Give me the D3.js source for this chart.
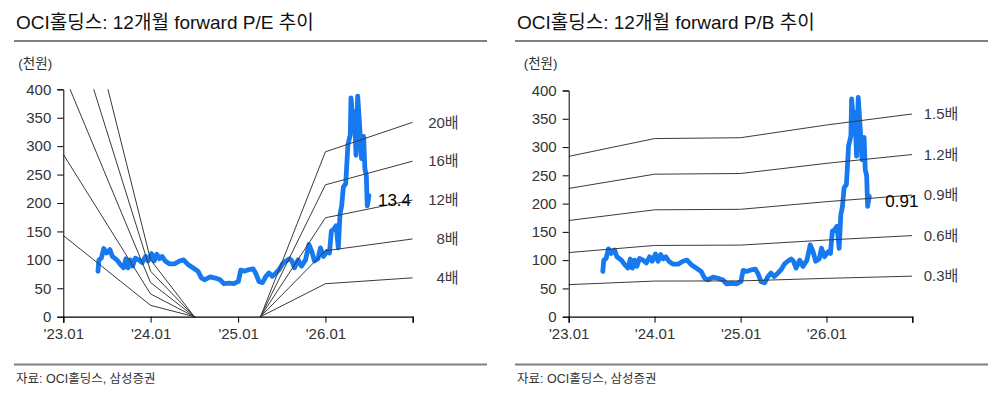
<!DOCTYPE html>
<html>
<head>
<meta charset="utf-8">
<script src="https://cdn.jsdelivr.net/npm/d3@7"></script>
<style>
  body { margin: 0; background: #fff; }
  text { font-family: "Liberation Sans", "Noto Sans CJK KR", sans-serif; }
</style>
</head>
<body>
<script>
// 주가 (천원)
var priceDates = [
  '2023-05-26','2023-05-30','2023-06-09','2023-06-19','2023-07-01','2023-07-15','2023-07-25',
  '2023-08-13','2023-08-27','2023-09-10','2023-09-20','2023-09-29','2023-10-08','2023-10-18',
  '2023-10-29','2023-11-13','2023-11-27','2023-12-11','2023-12-22','2024-01-05','2024-01-16',
  '2024-01-27','2024-02-07','2024-02-18','2024-03-02','2024-03-19','2024-04-10','2024-05-01',
  '2024-05-18','2024-06-05','2024-06-26','2024-07-17','2024-08-01','2024-08-15','2024-09-06',
  '2024-09-27','2024-10-18','2024-11-02','2024-11-23','2024-12-14','2025-01-02','2025-01-12',
  '2025-01-26','2025-02-16','2025-03-05','2025-03-15','2025-03-29','2025-04-13','2025-04-27',
  '2025-05-10','2025-05-24','2025-06-08','2025-06-22','2025-07-06','2025-07-20','2025-08-04',
  '2025-08-14','2025-08-25','2025-09-09','2025-09-23','2025-10-10','2025-10-24','2025-11-05',
  '2025-11-16','2025-12-01','2025-12-11','2025-12-24','2026-01-08','2026-01-18','2026-01-26',
  '2026-02-05','2026-02-15','2026-02-24','2026-03-03','2026-03-10','2026-03-17','2026-03-27',
  '2026-04-05','2026-04-15','2026-04-18','2026-04-25','2026-05-02','2026-05-09','2026-05-16',
  '2026-05-23','2026-06-01','2026-06-10','2026-06-15','2026-06-21','2026-06-25','2026-07-02'
];
var priceValues = [
  80, 100, 103, 120, 112, 118, 106,
  100, 92, 86, 102, 86, 100, 89,
  103, 100, 95, 106, 98, 111, 98,
  110, 102, 106, 98, 93, 93, 98,
  100, 92, 86, 80, 68, 65, 70,
  68, 65, 58, 59, 58, 62, 82,
  80, 83, 84, 77, 62, 60, 71,
  77, 71, 77, 83, 93, 98, 102,
  98, 86, 100, 89, 100, 127, 115,
  98, 102, 121, 106, 115, 112, 151,
  154, 160, 121, 180, 195, 228, 234,
  302, 320, 385, 349, 361, 284, 388,
  343, 278, 317, 260, 249, 195, 213
];

// 밴드 기준 (EPS, BPS 천원)
var bandDates = ['2023-01-01', '2024-01-01', '2025-01-01', '2026-01-01', '2027-01-01'];
var epsValues = [35.7, 5.0, -5.0, 14.5, 17.1];
var bpsValues = [189, 210, 211, 226, 239];
var perMultiples = [4, 8, 12, 16, 20];
var pbrMultiples = [0.3, 0.6, 0.9, 1.2, 1.5];
var perLabels = ['4배', '8배', '12배', '16배', '20배'];
var pbrLabels = ['0.3배', '0.6배', '0.9배', '1.2배', '1.5배'];

var yTicks = [0, 50, 100, 150, 200, 250, 300, 350, 400];
var xTickDates = ['2023-01-01', '2024-01-01', '2025-01-01', '2026-01-01', '2027-01-01'];
var xTickLabels = ["'23.01", "'24.01", "'25.01", "'26.01", ''];

var titles = ['OCI홀딩스: 12개월 forward P/E 추이', 'OCI홀딩스: 12개월 forward P/B 추이'];
var currentMultiples = ['13.4', '0.91'];
var sourceText = '자료: OCI홀딩스, 삼성증권';

var parse = d3.timeParse('%Y-%m-%d');
var prices = priceDates.map(function (d, i) { return { date: parse(d), value: priceValues[i] }; });

var svg = d3.select('body').append('svg')
  .attr('width', 997)
  .attr('height', 402);

function drawPanel(opt) {
  var g = svg.append('g');

  // 제목과 구분선
  g.append('text')
    .attr('x', opt.left)
    .attr('y', 29)
    .attr('font-size', 19)
    .attr('fill', '#111')
    .text(opt.title);
  g.append('line')
    .attr('x1', opt.left - 2).attr('x2', opt.left + 471)
    .attr('y1', 41).attr('y2', 41)
    .attr('stroke', '#808080').attr('stroke-width', 2.2);
  g.append('line')
    .attr('x1', opt.left - 2).attr('x2', opt.left + 471)
    .attr('y1', 364.5).attr('y2', 364.5)
    .attr('stroke', '#808080').attr('stroke-width', 2.2);
  g.append('text')
    .attr('x', opt.left)
    .attr('y', 383)
    .attr('font-size', 12.5)
    .attr('fill', '#333')
    .text(sourceText);

  g.append('text')
    .attr('x', opt.x0 - 45)
    .attr('y', 68)
    .attr('font-size', 13.5)
    .attr('fill', '#333')
    .text('(천원)');

  var x = d3.scaleTime()
    .domain([parse('2023-01-01'), parse('2027-01-01')])
    .range([opt.x0, opt.x1]);
  var y = d3.scaleLinear()
    .domain([0, 400])
    .range([opt.yBottom, opt.yTop]);

  var clipId = 'clip' + opt.id;
  svg.append('clipPath').attr('id', clipId)
    .append('rect')
    .attr('x', opt.x0).attr('y', opt.yTop)
    .attr('width', opt.x1 - opt.x0).attr('height', opt.yBottom - opt.yTop);

  // 주가
  var priceLine = d3.line()
    .x(function (d) { return x(d.date); })
    .y(function (d) { return y(d.value); });
  g.append('path')
    .datum(prices)
    .attr('d', priceLine)
    .attr('fill', 'none')
    .attr('stroke', '#1679ef')
    .attr('stroke-width', 4.8)
    .attr('stroke-linejoin', 'round')
    .attr('stroke-linecap', 'round');

  // 밴드
  var bands = opt.multiples.map(function (m) {
    return bandDates.map(function (d, i) { return { date: parse(d), value: m * opt.base[i] }; });
  });
  g.append('g')
    .attr('clip-path', 'url(#' + clipId + ')')
    .selectAll('path')
    .data(bands)
    .enter().append('path')
    .attr('d', priceLine)
    .attr('fill', 'none')
    .attr('stroke', '#3a3a3a')
    .attr('stroke-width', 1);

  g.selectAll('.bandLabel')
    .data(bands)
    .enter().append('text')
    .attr('class', 'bandLabel')
    .attr('x', opt.x1 + 46)
    .attr('y', function (d) { return y(d[d.length - 1].value); })
    .attr('dy', '0.35em')
    .attr('text-anchor', 'end')
    .attr('font-size', 15)
    .attr('fill', '#3a3a3a')
    .text(function (d, i) { return opt.labels[i]; });

  // 현재 배수
  var last = prices[prices.length - 1];
  g.append('text')
    .attr('x', x(last.date) + opt.curDx)
    .attr('y', y(205))
    .attr('dy', '0.35em')
    .attr('font-size', 17)
    .attr('fill', '#000')
    .text(opt.current);

  // 축
  var tickFont = '"Liberation Sans", "Noto Sans CJK KR", sans-serif';
  var yAxis = d3.axisLeft(y)
    .tickValues(yTicks)
    .tickSize(6)
    .tickPadding(6);
  var gy = g.append('g')
    .attr('transform', 'translate(' + opt.x0 + ',0)')
    .call(yAxis);
  gy.select('.domain').attr('stroke', '#000');
  gy.selectAll('.tick line').attr('stroke', '#000');
  gy.selectAll('.tick text')
    .attr('font-size', 15)
    .attr('fill', '#333')
    .style('font-family', tickFont);

  var xAxis = d3.axisBottom(x)
    .tickValues(xTickDates.map(parse))
    .tickFormat(function (d, i) { return xTickLabels[i]; })
    .tickSize(6)
    .tickPadding(6);
  var gx = g.append('g')
    .attr('transform', 'translate(0,' + opt.yBottom + ')')
    .call(xAxis);
  gx.select('.domain').attr('stroke', '#000').attr('stroke-width', 1.3);
  gx.selectAll('.tick line').attr('stroke', '#000');
  gx.selectAll('.tick text')
    .attr('font-size', 15)
    .attr('fill', '#333')
    .style('font-family', tickFont);
}

drawPanel({
  id: 'pe', left: 16, x0: 63.3, x1: 412.7, yTop: 89.3, yBottom: 316.7,
  title: titles[0], multiples: perMultiples, base: epsValues, labels: perLabels,
  current: currentMultiples[0], curDx: 9
});
drawPanel({
  id: 'pb', left: 517, x0: 568.7, x1: 912.3, yTop: 90.5, yBottom: 316.7,
  title: titles[1], multiples: pbrMultiples, base: bpsValues, labels: pbrLabels,
  current: currentMultiples[1], curDx: 16
});
</script>
</body>
</html>
